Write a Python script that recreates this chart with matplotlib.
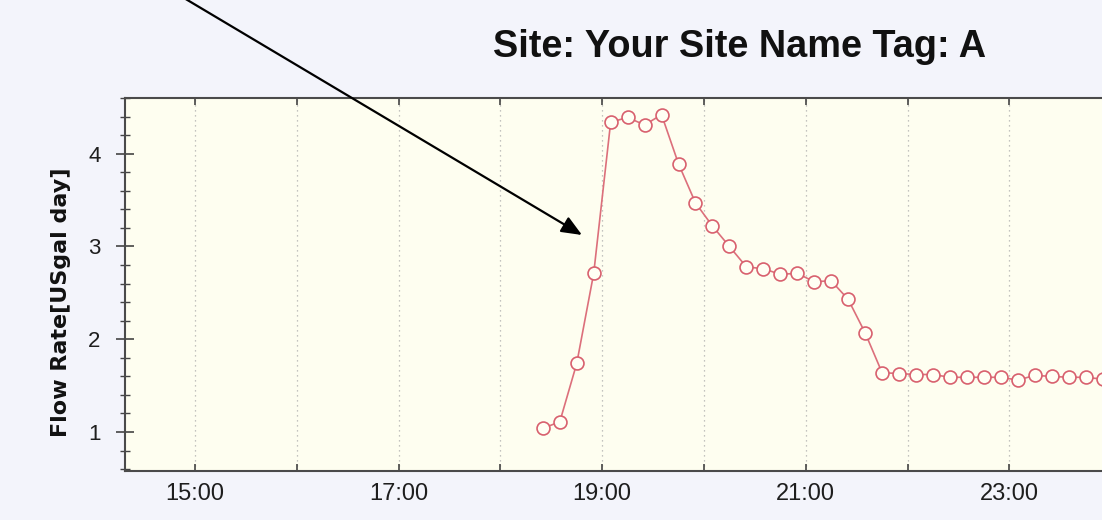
import numpy as np
import pandas as pd
import matplotlib
matplotlib.use("Agg")
import matplotlib.pyplot as plt
import matplotlib.dates as mdates
from matplotlib.ticker import MultipleLocator
from matplotlib.patches import FancyArrowPatch

# 10 minute readings
times = ["18:25", "18:35", "18:45", "18:55", "19:05", "19:15", "19:25", "19:35", "19:45",
         "19:55", "20:05", "20:15", "20:25", "20:35", "20:45", "20:55", "21:05", "21:15",
         "21:25", "21:35", "21:45", "21:55", "22:05", "22:15", "22:25", "22:35", "22:45",
         "22:55", "23:05", "23:15", "23:25", "23:35", "23:45", "23:55"]
flow = [1.04, 1.11, 1.74, 2.71, 4.34, 4.39, 4.31, 4.42, 3.89,
        3.47, 3.22, 3.00, 2.78, 2.76, 2.70, 2.71, 2.62, 2.63,
        2.43, 2.07, 1.64, 1.63, 1.62, 1.62, 1.59, 1.59, 1.59,
        1.59, 1.56, 1.61, 1.60, 1.59, 1.59, 1.57]
title = "Site: Your Site Name Tag: A"
ylabel = "Flow Rate[USgal day]"
day = "2020-01-01 "

t = pd.to_datetime([day + s for s in times])

W, H = 1102, 520
fig = plt.figure(figsize=(W / 100, H / 100), dpi=100, facecolor="#f3f4fb")
ax = fig.add_axes([125 / W, 1 - 471 / H, 1 - 125 / W, (471 - 98) / H])
ax.set_facecolor("#fefef0")

ax.plot(t, flow, color="#dc6f7b", lw=1.2, marker="o", ms=9.3, mfc="#fffff4",
        mec="#d8606e", mew=1.2, zorder=3)

ax.set_xlim(pd.Timestamp(day + "14:18:40"), pd.Timestamp(day + "23:54:40"))
ax.set_ylim(0.58, 4.6)

ax.xaxis.set_major_locator(mdates.HourLocator(interval=1))
ax.xaxis.set_major_formatter(
    lambda v, pos: mdates.num2date(v).strftime("%H:%M") if mdates.num2date(v).hour % 2 == 1 else "")
ax.yaxis.set_major_locator(MultipleLocator(1))
ax.yaxis.set_minor_locator(MultipleLocator(0.2))

ax.grid(axis="x", color="#b0b0b0", ls=(0, (1, 3)), lw=0.9)
ax.tick_params(axis="x", direction="in", length=5, width=1.2, color="#444444", top=True,
               labelsize=17, pad=9, labelcolor="#1e1e1e")
ax.tick_params(axis="y", which="major", direction="inout", length=13, width=1.2,
               color="#444444", labelsize=16, pad=11, labelcolor="#1e1e1e")
ax.tick_params(axis="y", which="minor", direction="inout", length=7, width=1.0, color="#444444")
for lab in ax.get_xticklabels() + ax.get_yticklabels():
    lab.set_fontfamily("Liberation Sans")

for side in ["left", "top", "bottom"]:
    ax.spines[side].set_color("#4a4a4a")
    ax.spines[side].set_linewidth(1.5)
ax.spines["right"].set_visible(False)

fig.text(740 / W, 1 - 57 / H, title, ha="center", va="baseline", fontsize=27.3,
         fontweight="bold", family="Liberation Sans", color="#111111")
fig.text(61 / W, 1 - 302 / H, ylabel, ha="center", va="center", rotation=90,
         fontsize=16, fontweight="bold", family="DejaVu Sans", color="#111111")

# pointer arrow
arrow = FancyArrowPatch((184 / W, 1 + 2 / H), (582 / W, 1 - 235 / H), transform=fig.transFigure,
                        arrowstyle="-|>,head_length=0.62,head_width=0.26", mutation_scale=20,
                        color="black", lw=1.6, shrinkA=0, shrinkB=0)
fig.add_artist(arrow)

fig.savefig("out.png", dpi=100, facecolor=fig.get_facecolor())
